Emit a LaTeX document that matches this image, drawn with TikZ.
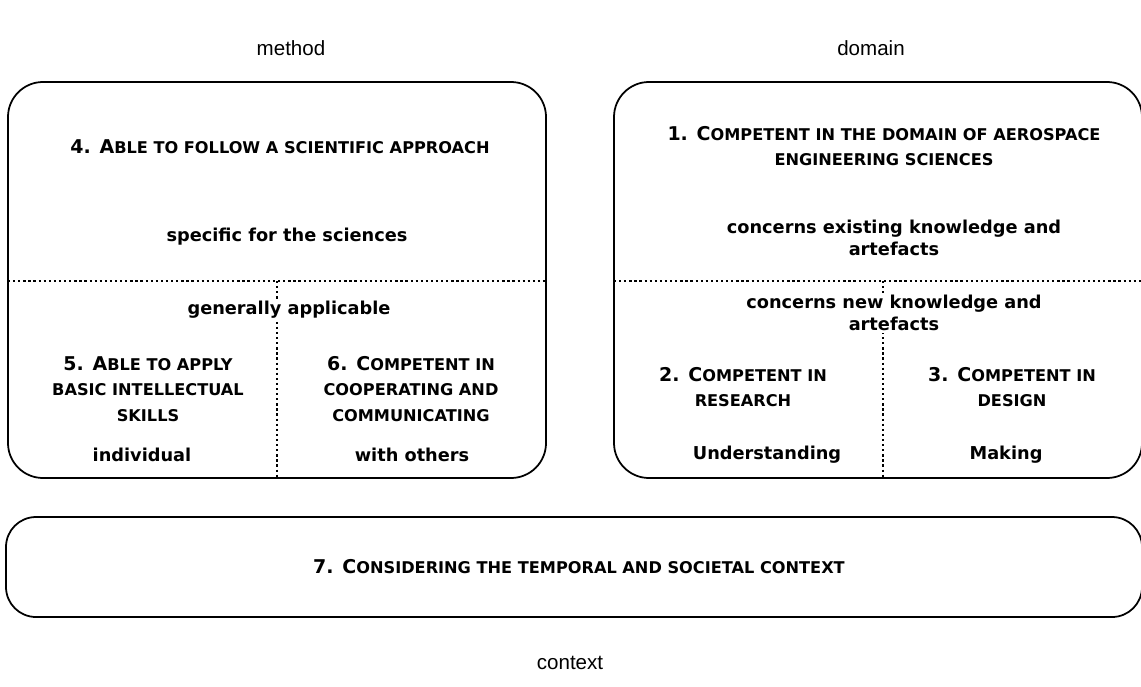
\documentclass[tikz,border=0pt]{standalone}
\usepackage{fontspec}
\setmainfont{Liberation Sans}
\newfontfamily\boxfont{DejaVu Sans}
\usetikzlibrary{positioning}
\newcommand{\capsm}[1]{{\fontsize{9.2}{10}\selectfont #1}}

\begin{document}
\begin{tikzpicture}[x=0.02cm, y=-0.02cm,
  box/.style={line width=1pt, rounded corners=0.7cm},
  divider/.style={line width=0.7pt, dash pattern=on 1.3pt off 1.6pt},
  heading/.style={font=\fontsize{11.7}{14}\selectfont},
  label/.style={font=\boxfont\bfseries\fontsize{10.1}{12.5}\selectfont, align=center, inner sep=1pt, fill=white},
  competence/.style={font=\boxfont\bfseries\fontsize{10.8}{14.5}\selectfont, align=center, inner sep=1pt}]
\useasboundingbox (0,0) rectangle (1141,686);

\node[heading] (method) at (291,48) {method};
\node[heading] (domain) at (871,48) {domain};
\node[heading] (context) at (570,663) {context};

\draw[box] (8,82) rectangle (546,478);
\draw[box] (614,82) rectangle (1142,478);
\draw[box, rounded corners=0.6cm] (6,517) rectangle (1142,617);

\draw[divider] (8,281) -- (546,281);
\draw[divider] (277,281) -- (277,478);
\draw[divider] (614,281) -- (1142,281);
\draw[divider] (883,281) -- (883,478);

\node[competence] (approach) at (280,147) {4. A\capsm{BLE TO FOLLOW A SCIENTIFIC APPROACH}};
\node[label] (specific) at (287,237) {specific for the sciences};
\node[label] (general) at (289,310) {generally applicable};
\node[competence] (basic) at (148,389) {5. A\capsm{BLE TO APPLY}\\\capsm{BASIC INTELLECTUAL}\\\capsm{SKILLS}};
\node[competence] (cooperate) at (411,389) {6. C\capsm{OMPETENT IN}\\\capsm{COOPERATING AND}\\\capsm{COMMUNICATING}};
\node[label] (individual) at (142,455) {individual};
\node[label] (others) at (412,455) {with others};

\node[competence] (aerospace) at (884,146) {1. C\capsm{OMPETENT IN THE DOMAIN OF AEROSPACE}\\\capsm{ENGINEERING SCIENCES}};
\node[label] (existing) at (894,238) {concerns existing knowledge and\\artefacts};
\node[label] (newknow) at (894,313) {concerns new knowledge and\\artefacts};
\node[competence] (research) at (743,387) {2. C\capsm{OMPETENT IN}\\\capsm{RESEARCH}};
\node[competence] (design) at (1012,387) {3. C\capsm{OMPETENT IN}\\\capsm{DESIGN}};
\node[label] (understand) at (767,455) {Understanding};
\node[label] (making) at (1006,455) {Making};

\node[competence] (societal) at (579,567) {7. C\capsm{ONSIDERING THE TEMPORAL AND SOCIETAL CONTEXT}};
\end{tikzpicture}
\end{document}
